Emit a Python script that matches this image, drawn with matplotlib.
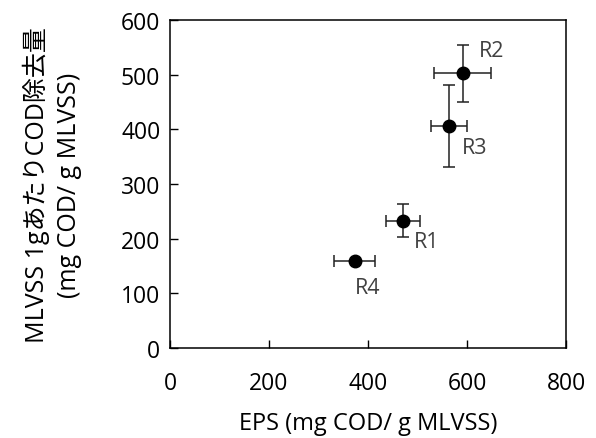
import matplotlib
matplotlib.use("Agg")
import matplotlib.pyplot as plt

plt.rcParams['font.family'] = ['Open Sans', 'Noto Sans CJK JP', 'DejaVu Sans']

labels = ["R1", "R2", "R3", "R4"]
eps = [471, 591, 564, 373]
eps_err = [35, 58, 36, 41]
cod = [233, 503, 407, 158]
cod_err = [31, 52, 75, 0]
label_offsets = [(8, -15), (12, 16), (9, -16), (0, -19)]

fig = plt.figure(figsize=(5.96, 4.39), dpi=100)
ax = fig.add_axes([0.2852, 0.2057, 0.6645, 0.7458])

ax.errorbar(eps, cod, xerr=eps_err, yerr=cod_err, fmt='o', color='black',
            ecolor='#222222', elinewidth=1.1, capsize=4, capthick=1.1,
            markersize=9)
for lab, x, y, off in zip(labels, eps, cod, label_offsets):
    ax.annotate(lab, (x, y), xytext=off, textcoords='offset points',
                fontsize=15.5, color='#404040', ha='left', va='center')

ax.set_xlim(0, 800)
ax.set_ylim(0, 600)
ax.set_xticks([0, 200, 400, 600, 800])
ax.set_yticks([0, 100, 200, 300, 400, 500, 600])
ax.tick_params(direction='in', length=5.5, width=1, labelsize=16.5, color='black')
ax.tick_params(axis='x', pad=17)
ax.tick_params(axis='y', pad=7)
for s in ax.spines.values():
    s.set_linewidth(1.1)
    s.set_color('black')

ax.set_xlabel("EPS (mg COD/ g MLVSS)", fontsize=17, labelpad=11)
ax.set_ylabel("MLVSS 1gあたりCOD除去量\n(mg COD/ g MLVSS)", fontsize=18,
              linespacing=1.35)
ax.yaxis.set_label_coords(-0.222, 0.5)

fig.savefig("out.png", dpi=100)
